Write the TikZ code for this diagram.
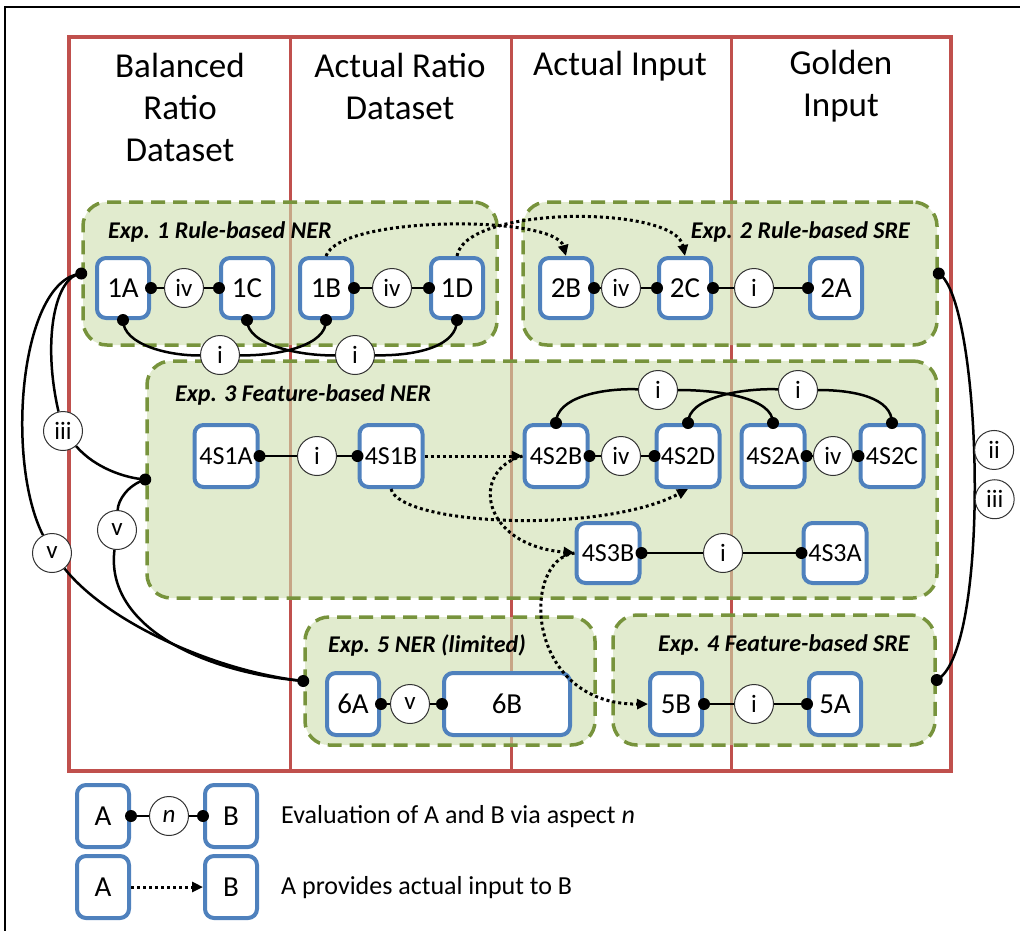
\documentclass[tikz,border=0pt]{standalone}
\usepackage{fontspec}
\setmainfont{Carlito}
\usetikzlibrary{arrows.meta,positioning}
\definecolor{redline}{RGB}{192,80,77}
\definecolor{runblue}{RGB}{79,129,189}
\definecolor{expgreen}{RGB}{119,147,60}
\definecolor{expfill}{RGB}{205,222,173}
\tikzset{
  colline/.style={draw=redline,line width=3pt},
  expbox/.style={draw=expgreen,line width=3.5pt,dash pattern=on 14pt off 8pt,
    rounded corners=24pt,fill=expfill,fill opacity=0.6,draw opacity=1,inner sep=0pt},
  explabel/.style={font=\fontsize{24}{26}\selectfont\bfseries\itshape,inner sep=0pt},
  headtext/.style={font=\fontsize{35}{42}\selectfont,align=center,inner sep=0pt},
  exprun/.style={draw=runblue,line width=4pt,rounded corners=9pt,fill=white,
    minimum width=52pt,minimum height=60pt,inner sep=0pt,font=\fontsize{29}{31}\selectfont},
  featrun/.style={exprun,minimum width=63pt,minimum height=62pt,font=\fontsize{26}{28}\selectfont},
  aspect/.style={circle,draw=black!80,line width=1pt,fill=white,minimum size=39pt,
    inner sep=0pt,font=\fontsize{25}{27}\selectfont},
  eval/.style={line width=2.5pt},
  feed/.style={line width=3pt,dash pattern=on 3pt off 3pt,-{Triangle[length=11pt,width=10pt]}}
}
\begin{document}
\begin{tikzpicture}[x=1pt,y=-1pt]
  \useasboundingbox (0,0) rectangle (1020,930);
  %BORDER
  \draw[line width=1.5pt] (5,935) |- (1025,7);
  %COLUMNS
  \draw[colline,line width=4pt] (69,37) rectangle (951,771);
  \foreach \x in {290,511,731} \draw[colline] (\x,37) -- (\x,771);
  \node[headtext] (h1) at (180,107) {Balanced\\Ratio\\Dataset};
  \node[headtext] (h2) at (400,86) {Actual Ratio\\Dataset};
  \node[headtext] (h3) at (620,66) {Actual Input};
  \node[headtext] (h4) at (841,86) {Golden\\Input};
  %EXPERIMENTS
  \node[expbox,minimum width=414pt,minimum height=143pt] (exp1) at (290,273.5) {};
  \node[expbox,minimum width=414pt,minimum height=143pt] (exp2) at (730,273.5) {};
  \node[expbox,minimum width=790pt,minimum height=237pt] (exp3) at (542,479.5) {};
  \node[expbox,minimum width=290pt,minimum height=128pt] (exp5) at (450,681) {};
  \node[expbox,minimum width=322pt,minimum height=130pt] (exp4) at (774,680) {};
  \node[explabel,anchor=west] (l1) at (108,232) {Exp. 1 Rule-based NER};
  \node[explabel,anchor=east] (l2) at (910,232) {Exp. 2 Rule-based SRE};
  \node[explabel,anchor=west] (l3) at (175,395) {Exp. 3 Feature-based NER};
  \node[explabel,anchor=west] (l5) at (328,645) {Exp. 5 NER (limited)};
  \node[explabel,anchor=west] (l4) at (658,645) {Exp. 4 Feature-based SRE};
  %RUNS
  \node[exprun] (1A) at (123,288) {1A};
  \node[exprun] (1C) at (247,288) {1C};
  \node[exprun] (1B) at (326,288) {1B};
  \node[exprun] (1D) at (457,288) {1D};
  \node[exprun] (2B) at (566,288) {2B};
  \node[exprun] (2C) at (685,288) {2C};
  \node[exprun] (2A) at (836,288) {2A};
  \node[featrun] (4S1A) at (226,456) {4S1A};
  \node[featrun] (4S1B) at (391,456) {4S1B};
  \node[featrun] (4S2B) at (556,456) {4S2B};
  \node[featrun] (4S2D) at (688,456) {4S2D};
  \node[featrun] (4S2A) at (773,456) {4S2A};
  \node[featrun] (4S2C) at (892,456) {4S2C};
  \node[featrun,minimum height=60pt] (4S3B) at (608,553) {4S3B};
  \node[featrun,minimum height=60pt] (4S3A) at (835,553) {4S3A};
  \node[exprun,minimum height=62pt] (6A) at (353,704) {6A};
  \node[exprun,minimum height=62pt,minimum width=126pt] (6B) at (507,704) {6B};
  \node[exprun,minimum height=62pt] (5B) at (676,704) {5B};
  \node[exprun,minimum height=62pt] (5A) at (835,704) {5A};
  %ASPECTS
  \node[aspect] (a1) at (184,288) {iv};
  \node[aspect] (a2) at (392,288) {iv};
  \node[aspect] (a3) at (220,355) {i};
  \node[aspect] (a4) at (355,355) {i};
  \node[aspect] (a5) at (621,288) {iv};
  \node[aspect] (a6) at (754,288) {i};
  \node[aspect] (a7) at (317,456) {i};
  \node[aspect] (a8) at (621,456) {iv};
  \node[aspect] (a9) at (833,456) {iv};
  \node[aspect] (a10) at (658,390) {i};
  \node[aspect] (a11) at (798,390) {i};
  \node[aspect] (a12) at (723,553) {i};
  \node[aspect] (a13) at (410,704) {v};
  \node[aspect] (a14) at (754,704) {i};
  \node[aspect] (a15) at (63,431) {iii};
  \node[aspect] (a16) at (52,553) {v};
  \node[aspect] (a17) at (117,530) {v};
  %EVALUATION LINKS
  \foreach \a/\c/\b in {1A/a1/1C,1B/a2/1D,2B/a5/2C,2C/a6/2A,4S1A/a7/4S1B,4S2B/a8/4S2D,
      4S2A/a9/4S2C,4S3B/a12/4S3A,6A/a13/6B,5B/a14/5A}{
    \draw[eval] (\a.east) -- (\c) -- (\b.west);
    \fill (\a.east) circle[radius=6pt] (\b.west) circle[radius=6pt];
  }
  \draw[eval] (1A.south) .. controls (123,345) and (170,356) .. (a3);
  \draw[eval] (a3) .. controls (280,356) and (327,345) .. (1B.south);
  \draw[eval] (1C.south) .. controls (247,345) and (300,356) .. (a4);
  \draw[eval] (a4) .. controls (420,356) and (457,345) .. (1D.south);
  \draw[eval] (4S2B.north) .. controls (556,398) and (600,388) .. (a10);
  \draw[eval] (a10) .. controls (720,390) and (773,398) .. (4S2A.north);
  \draw[eval] (4S2D.north) .. controls (688,398) and (740,388) .. (a11);
  \draw[eval] (a11) .. controls (855,390) and (892,398) .. (4S2C.north);
  \foreach \n in {1A,1B,1C,1D} \fill (\n.south) circle[radius=6pt];
  \foreach \n in {4S2B,4S2A,4S2D,4S2C} \fill (\n.north) circle[radius=6pt];
  %LINKS BETWEEN EXPERIMENTS
  \draw[eval] (exp1.west) .. controls (55,276) and (42,340) .. (a15);
  \draw[eval] (a15) .. controls (95,468) and (125,478) .. (exp3.west);
  \draw[eval] (exp1.west) .. controls (20,280) and (5,460) .. (a16);
  \draw[eval] (a16) .. controls (110,625) and (220,672) .. (exp5.west);
  \draw[eval] (exp3.west) .. controls (128,485) and (118,500) .. (a17);
  \draw[eval] (a17) .. controls (105,625) and (200,672) .. (exp5.west);
  \draw[eval] (exp2.east) .. controls (982,300) and (992,650) .. (exp4.east)
    node[aspect,pos=0.455,anchor=west] (a18) {ii}
    node[aspect,pos=0.542,anchor=west] (a19) {iii};
  \foreach \n in {exp1,exp3,exp5} \fill (\n.west) circle[radius=6pt];
  \foreach \n in {exp2,exp4} \fill (\n.east) circle[radius=6pt];
  %ACTUAL INPUT
  \draw[feed] (1B.north) .. controls (340,215) and (555,215) .. (2B.north);
  \draw[feed] (1D.north) .. controls (465,205) and (675,205) .. (2C.north);
  \draw[feed] (4S1B.east) -- (4S2B.west);
  \draw[feed] (4S1B.south) .. controls (400,525) and (600,535) .. (4S2D.south);
  \draw[feed] (4S2B.west) .. controls (470,470) and (480,545) .. (4S3B.west);
  \draw[feed] (4S3B.west) .. controls (520,560) and (525,705) .. (5B.west);
  %LEGEND
  \node[exprun,minimum height=62pt] (LA1) at (103,816) {A};
  \node[exprun,minimum height=62pt] (LB1) at (231,816) {B};
  \node[aspect] (ln) at (169,816) {\itshape n};
  \draw[eval] (LA1.east) -- (ln) -- (LB1.west);
  \fill (LA1.east) circle[radius=6pt] (LB1.west) circle[radius=6pt];
  \node[exprun,minimum height=62pt] (LA2) at (103,887) {A};
  \node[exprun,minimum height=62pt] (LB2) at (231,887) {B};
  \draw[feed] (LA2.east) -- (LB2.west);
  \node[anchor=west,inner sep=0pt,font=\fontsize{26}{28}\selectfont] (t1) at (281,817)
    {Evaluation of A and B via aspect \textit{n}};
  \node[anchor=west,inner sep=0pt,font=\fontsize{26}{28}\selectfont] (t2) at (281,888)
    {A provides actual input to B};
\end{tikzpicture}
\end{document}
